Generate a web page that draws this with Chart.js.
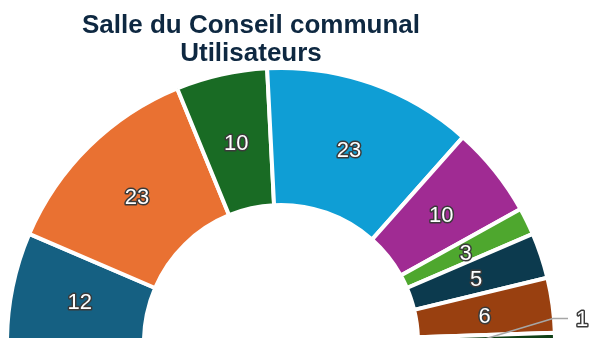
<!DOCTYPE html>
<html lang="fr">
<head>
<meta charset="utf-8">
<title>Salle du Conseil communal</title>
<script src="https://cdn.jsdelivr.net/npm/chart.js@4/dist/chart.umd.min.js"></script>
<style>
  html, body { margin: 0; padding: 0; background: #fff; overflow: hidden; }
  #cadre { position: relative; width: 590px; height: 338px; }
</style>
</head>
<body>
<div id="cadre"><canvas id="hemicycle"></canvas></div>
<script>
// Données
const titreLignes = ['Salle du Conseil communal', 'Utilisateurs'];
const groupes = ['Groupe 1', 'Groupe 2', 'Groupe 3', 'Groupe 4', 'Groupe 5', 'Groupe 6', 'Groupe 7', 'Groupe 8', 'Groupe 9'];
const sieges = [12, 23, 10, 23, 10, 3, 5, 6, 1];
const couleurs = ['#156082', '#e97132', '#196b24', '#0f9ed5', '#a02b93', '#4ea72e', '#0c3a4e', '#994010', '#0f4016'];

// Titre sur deux lignes
const titre = {
  id: 'titre',
  afterDraw(chart) {
    const ctx = chart.ctx;
    ctx.save();
    ctx.font = 'bold 26px "Liberation Sans", Arial, sans-serif';
    ctx.fillStyle = '#0e2841';
    ctx.textAlign = 'center';
    ctx.textBaseline = 'alphabetic';
    titreLignes.forEach((ligne, i) => {
      ctx.fillText(ligne, 251, 33 + i * 28);
    });
    ctx.restore();
  }
};

// Valeurs dans les tranches, trait de rappel pour les toutes petites
const etiquettes = {
  id: 'etiquettes',
  afterDatasetsDraw(chart) {
    const ctx = chart.ctx;
    const meta = chart.getDatasetMeta(0);
    ctx.save();
    ctx.font = '22px "Liberation Sans", Arial, sans-serif';
    ctx.textAlign = 'center';
    ctx.textBaseline = 'middle';
    ctx.lineJoin = 'round';
    meta.data.forEach((arc, i) => {
      const valeur = sieges[i];
      const pos = arc.tooltipPosition();
      let x = pos.x;
      let y = pos.y + 2.5;
      if (valeur < 2) {
        const coudeX = arc.x + arc.outerRadius - 2;
        const coudeY = pos.y - 20;
        ctx.strokeStyle = '#a6a6a6';
        ctx.lineWidth = 1.5;
        ctx.beginPath();
        ctx.moveTo(pos.x, pos.y);
        ctx.lineTo(coudeX, coudeY);
        ctx.lineTo(coudeX + 15, coudeY);
        ctx.stroke();
        x = coudeX + 29;
        y = coudeY + 1.5;
      }
      ctx.lineWidth = 3;
      ctx.strokeStyle = '#3a3a3a';
      ctx.strokeText(String(valeur), x, y);
      ctx.fillStyle = '#ffffff';
      ctx.fillText(String(valeur), x, y);
    });
    ctx.restore();
  }
};

document.addEventListener('DOMContentLoaded', () => {
  const ctx = document.getElementById('hemicycle');
  if (!ctx) {
    console.error('Canvas introuvable.');
    return;
  }
  new Chart(ctx.getContext('2d'), {
    type: 'doughnut',
    data: {
      labels: groupes,
      datasets: [{
        data: sieges,
        backgroundColor: couleurs,
        borderColor: '#ffffff',
        borderWidth: 4,
        clip: false
      }]
    },
    options: {
      responsive: true,
      maintainAspectRatio: false,
      animation: false,
      rotation: -90,
      circumference: 180,
      radius: 274,
      cutout: '50%',
      layout: { padding: { top: 72, left: 0, right: 28, bottom: 0 } },
      plugins: {
        legend: { display: false },
        title: { display: false },
        tooltip: { enabled: false }
      }
    },
    plugins: [titre, etiquettes]
  });
});
</script>
</body>
</html>
